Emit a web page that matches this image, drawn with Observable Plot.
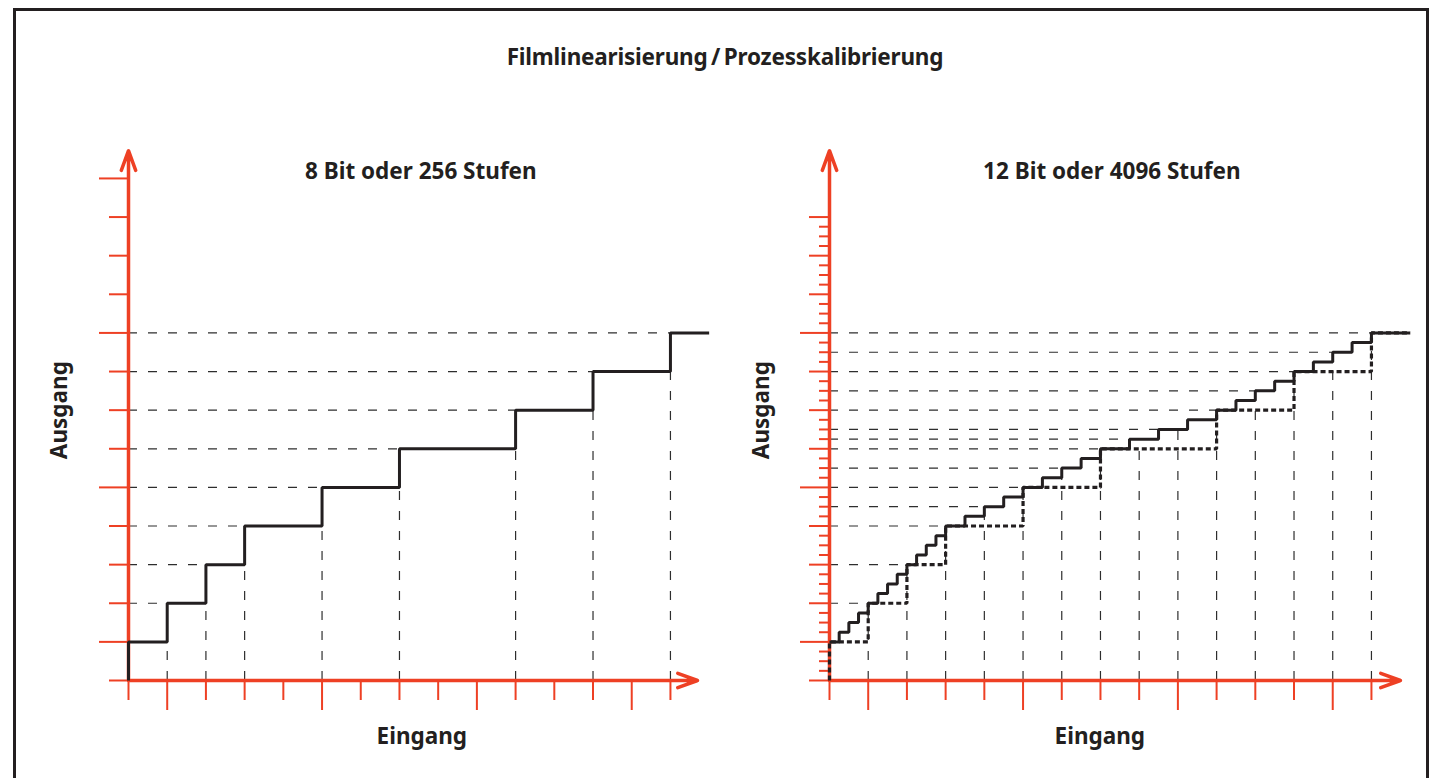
<!DOCTYPE html>
<html>
<head>
<meta charset="utf-8">
<script src="https://cdn.jsdelivr.net/npm/d3@7"></script>
<script src="https://cdn.jsdelivr.net/npm/@observablehq/plot@0.6"></script>
<style>
html, body { margin: 0; padding: 0; background: #fff; }
#root { position: relative; width: 1441px; height: 778px; overflow: hidden; font-family: "Noto Sans", Roboto, sans-serif; }
#frame { position: absolute; left: 13px; top: 8px; width: 1416px; height: 820px; border: 3px solid #231f20; box-sizing: border-box; }
#title { position: absolute; left: 0; top: 43px; width: 1450px; text-align: center; font-weight: 700; font-size: 22.5px; line-height: 28px; color: #231f20; letter-spacing: -0.2px; }
#left { position: absolute; left: 0; top: 0; }
#right { position: absolute; left: 700px; top: 0; }
</style>
</head>
<body>
<div id="root">
  <div id="frame"></div>
  <div id="title">Filmlinearisierung&#8201;/&#8201;Prozesskalibrierung</div>
  <div id="left"></div>
  <div id="right"></div>
</div>
<script>
// ---------- data ----------
const chartTitle = "Filmlinearisierung / Prozesskalibrierung";
const leftTitle = "8 Bit oder 256 Stufen";
const rightTitle = "12 Bit oder 4096 Stufen";
const xLabel = "Eingang";
const yLabel = "Ausgang";

// 8-bit (coarse) transfer curve: step positions (input) and output levels
const coarseX = [0, 1, 2, 3, 5, 7, 10, 12, 14];
const coarseY = [1, 2, 3, 4, 5, 6, 7, 8, 9];
const stepEndX = 15;

// 12-bit (fine) transfer curve
const fineX = [0, 0.25, 0.5, 0.75, 1, 1.25, 1.5, 1.75, 2, 2.25, 2.5, 2.75, 3, 3.5, 4, 4.5,
               5, 5.5, 6, 6.5, 7, 7.75, 8.5, 9.25, 10, 10.5, 11, 11.5, 12, 12.5, 13, 13.5, 14];
const fineY = [1, 1.25, 1.5, 1.75, 2, 2.25, 2.5, 2.75, 3, 3.25, 3.5, 3.75, 4, 4.25, 4.5, 4.75,
               5, 5.25, 5.5, 5.75, 6, 6.25, 6.5, 6.75, 7, 7.25, 7.5, 7.75, 8, 8.25, 8.5, 8.75, 9];

// guide lines (dashed) for the 12-bit panel: input tick -> output level
const guideX = [1, 2, 3, 4, 5, 6, 7, 8, 9, 10, 11, 12, 13, 14];
const guideY = [2, 3, 4, 4.5, 5, 5.5, 6, 6.25, 6.5, 7, 7.5, 8, 8.5, 9];

// ticks
const xTicksMajor = [1, 5, 9, 13];
const xTicksMinor = [0, 2, 3, 4, 6, 7, 8, 10, 11, 12, 14];
const leftYTicksMajor = [1, 5, 9, 13];
const leftYTicksMinor = [0, 2, 3, 4, 6, 7, 8, 10, 11, 12];
const rightYTicksMajor = [1, 5, 9];
const rightYTicksMid = [0, 2, 3, 4, 6, 7, 8, 10, 11, 12];
const rightYTicksFine = [0.25, 0.5, 0.75, 1.25, 1.5, 1.75, 2.25, 2.5, 2.75, 3.25, 3.5, 3.75,
                         4.25, 4.5, 4.75, 5.25, 5.5, 5.75, 6.25, 6.5, 6.75, 7.25, 7.5, 7.75,
                         8.25, 8.5, 8.75, 9.25, 9.5, 9.75, 10.25, 10.5, 10.75, 11.25, 11.5, 11.75];

// axis extents (in data units)
const leftAxisEnd = {x: 14.7, y: 13.72};
const rightAxisEnd = {x: 14.75, y: 13.72};

// ---------- styles ----------
const RED = "#ee4024";
const INK = "#231f20";
const GUIDE = "#2e2e2e";
const FONT = "'Noto Sans', Roboto, sans-serif";
const UX = 38.71, UY = 38.62;

function stepData(xs, ys, start) {
  const pts = start ? [start] : [];
  xs.forEach((x, i) => pts.push({x, y: ys[i]}));
  pts.push({x: stepEndX, y: ys[ys.length - 1]});
  return pts;
}

function axisMarks(cfg) {
  const ax = [
    {x1: 0, y1: 0, x2: cfg.axisEnd.x, y2: 0},
    {x1: 0, y1: 0, x2: 0, y2: cfg.axisEnd.y}
  ];
  const tickOpts = {stroke: RED, strokeWidth: 2, tickFormat: () => "", label: null};
  const marks = [
    Plot.arrow(ax, {x1: "x1", y1: "y1", x2: "x2", y2: "y2", stroke: RED, strokeWidth: 3.5,
                    headLength: 9, headAngle: 40}),
    Plot.axisX(xTicksMinor, {...tickOpts, anchor: "bottom", tickSize: 20}),
    Plot.axisX(xTicksMajor, {...tickOpts, anchor: "bottom", tickSize: 30})
  ];
  cfg.yTicks.forEach(([ticks, size]) => {
    marks.push(Plot.axisY(ticks, {...tickOpts, anchor: "left", tickSize: size}));
  });
  return marks;
}

function textMarks(cfg) {
  const base = {fontSize: 22.5, fontWeight: "bold", fill: INK, textAnchor: "middle", fontFamily: FONT};
  return [
    Plot.text([cfg.title], {...base, text: d => d, frameAnchor: "top", dy: 23, dx: cfg.titleDx}),
    Plot.text([xLabel], {...base, text: d => d, frameAnchor: "bottom", dy: 63, dx: cfg.xLabelDx}),
    Plot.text([yLabel], {...base, text: d => d, frameAnchor: "left", dx: cfg.yLabelDx, rotate: -90})
  ];
}

function makePlot(cfg, marks) {
  const x0 = cfg.marginLeft;
  return Plot.plot({
    width: cfg.width,
    height: 778,
    marginLeft: x0,
    marginRight: cfg.width - (x0 + 15 * UX),
    marginBottom: 98,
    marginTop: 680 - 14 * UY,
    x: {domain: [0, 15]},
    y: {domain: [0, 14]},
    style: {background: "transparent", overflow: "visible", fontFamily: FONT},
    marks: [...marks, ...textMarks(cfg)]
  });
}

// ---------- left panel ----------
const leftCfg = {
  width: 720, marginLeft: 128, title: leftTitle, titleDx: 2, xLabelDx: 3, yLabelDx: -69,
  axisEnd: leftAxisEnd,
  yTicks: [[leftYTicksMinor, 19], [leftYTicksMajor, 29]]
};
const leftV = coarseX.slice(1).map((x, i) => ({x, y: coarseY[i]}));
const leftH = coarseX.slice(1).map((x, i) => ({x, y: coarseY[i + 1]}));
const dash = {stroke: GUIDE, strokeWidth: 1.2, strokeDasharray: "9,11"};
const leftPlot = makePlot(leftCfg, [
  Plot.ruleX(leftV, {x: "x", y1: 0, y2: "y", ...dash}),
  Plot.ruleY(leftH, {y: "y", x1: 0, x2: "x", ...dash}),
  ...axisMarks(leftCfg),
  Plot.line(stepData(coarseX, coarseY, {x: 0, y: 0}), {x: "x", y: "y", curve: "step-after",
    stroke: INK, strokeWidth: 3, strokeLinejoin: "miter", strokeLinecap: "butt"})
]);
document.getElementById("left").append(leftPlot);

// ---------- right panel ----------
const rightCfg = {
  width: 741, marginLeft: 129, title: rightTitle, titleDx: -8, xLabelDx: -20, yLabelDx: -68,
  axisEnd: rightAxisEnd,
  yTicks: [[rightYTicksFine, 10], [rightYTicksMid, 20], [rightYTicksMajor, 29]]
};
const rightG = guideX.map((x, i) => ({x, y: guideY[i]}));
const rightPlot = makePlot(rightCfg, [
  Plot.ruleX(rightG, {x: "x", y1: 0, y2: "y", ...dash}),
  Plot.ruleY(rightG, {y: "y", x1: 0, x2: "x", ...dash}),
  ...axisMarks(rightCfg),
  Plot.line(stepData(coarseX, coarseY, {x: 0, y: 0}), {x: "x", y: "y", curve: "step-after",
    stroke: INK, strokeWidth: 3.2, strokeDasharray: "5,3", strokeLinejoin: "miter", strokeLinecap: "butt"}),
  Plot.line(stepData(fineX, fineY, null), {x: "x", y: "y", curve: "step-after",
    stroke: INK, strokeWidth: 3, strokeLinejoin: "miter", strokeLinecap: "butt"})
]);
document.getElementById("right").append(rightPlot);
</script>
</body>
</html>
